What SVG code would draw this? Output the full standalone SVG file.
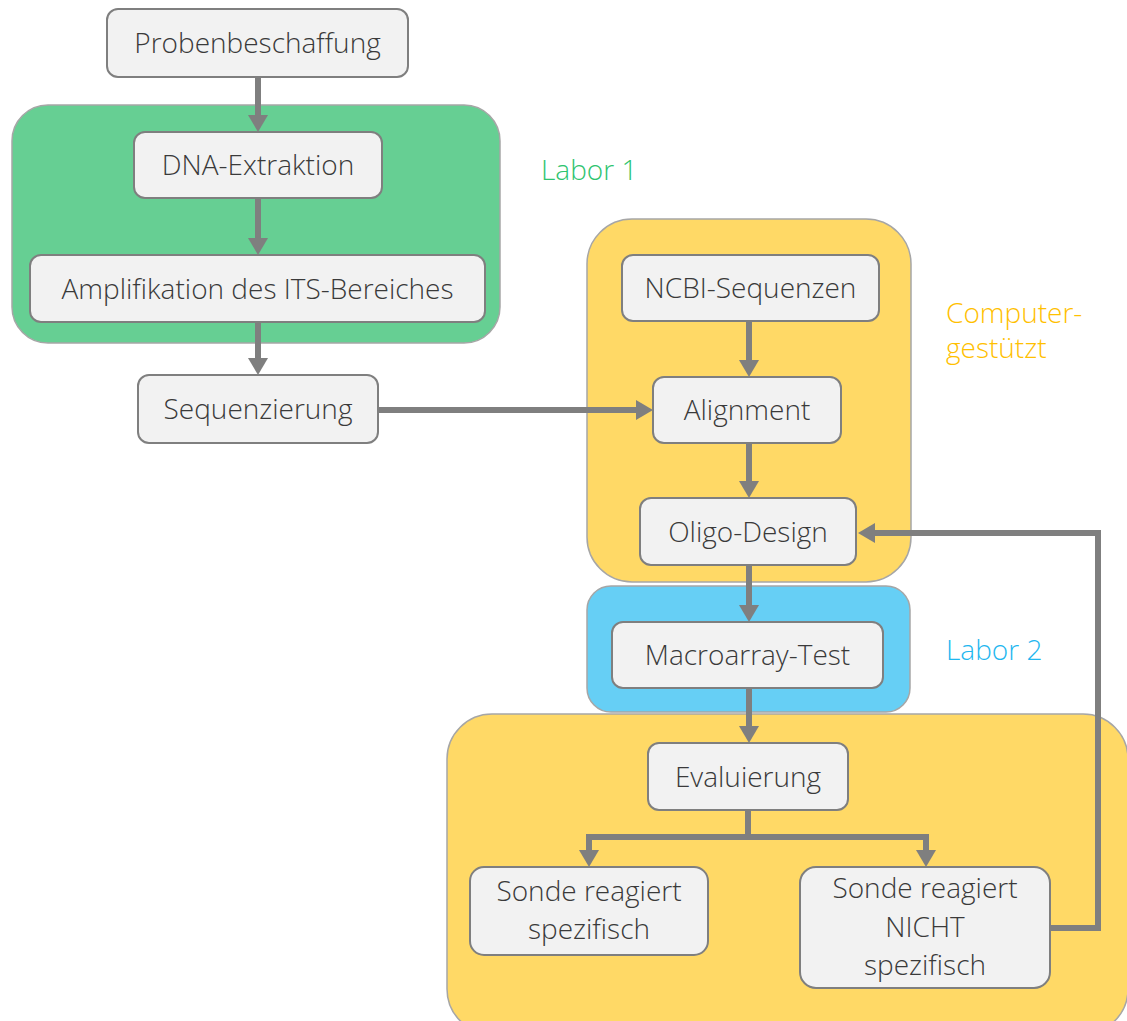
<svg xmlns="http://www.w3.org/2000/svg" width="1127" height="1021" viewBox="0 0 1127 1021">
<style>
.box{fill:#f2f2f2;stroke:#7f7f7f;stroke-width:2}
.grp{stroke:#a6a6a6;stroke-width:1.5}
.t{font-family:"Open Sans",Lato,"Liberation Sans",sans-serif;font-weight:300;font-size:28px;fill:#3a3a3a;text-anchor:middle}
.lbl{font-family:"Open Sans",Lato,"Liberation Sans",sans-serif;font-weight:300;font-size:28px}
.c{fill:none;stroke:#7f7f7f;stroke-width:6}
.a{marker-end:url(#ah)}
</style>
<defs>
<marker id="ah" markerUnits="userSpaceOnUse" markerWidth="18" markerHeight="20" refX="0" refY="10" orient="auto">
<path d="M0,0 L17,10 L0,20 z" fill="#7f7f7f"/>
</marker>
</defs>
<rect width="1127" height="1021" fill="#ffffff"/>
<g id="groups">
<rect id="g-labor1" class="grp" x="12" y="105" width="488" height="238" rx="36" fill="#66cf93"/>
<rect id="g-computer" class="grp" x="587" y="219" width="324" height="363" rx="45" fill="#ffd966"/>
<rect id="g-labor2" class="grp" x="587" y="586" width="323" height="126" rx="24" fill="#66cff5"/>
<rect id="g-eval" class="grp" x="447" y="714" width="681" height="320" rx="45" fill="#ffd966"/>
</g>
<g id="labels">
<text class="lbl" x="541" y="180" fill="#2ec46f">Labor 1</text>
<text class="lbl" x="946" y="323" fill="#ffc000">Computer-</text>
<text class="lbl" x="946" y="358" fill="#ffc000">gestützt</text>
<text class="lbl" x="946" y="660" fill="#1fb7ef">Labor 2</text>
</g>
<g id="connectors">
<path class="c a" d="M258,77 V115"/>
<path class="c a" d="M258,198 V238"/>
<path class="c a" d="M258,322 V358"/>
<path class="c a" d="M378,410 H636"/>
<path class="c a" d="M749,321 V360"/>
<path class="c a" d="M749,443 V481"/>
<path class="c a" d="M749,565 V605"/>
<path class="c a" d="M749,688 V726"/>
<path class="c" d="M748,810 V837 M586,837 H929"/>
<path class="c a" d="M589,834 V850"/>
<path class="c a" d="M926,834 V850"/>
<path class="c a" d="M1050,928 H1098 V533 H875"/>
</g>
<g id="n-probenbeschaffung"><rect class="box" x="107" y="9" width="301" height="68" rx="11"/><text class="t" x="257.5" y="53">Probenbeschaffung</text></g>
<g id="n-dna"><rect class="box" x="134" y="132" width="248" height="66" rx="11"/><text class="t" x="258" y="175">DNA-Extraktion</text></g>
<g id="n-amp"><rect class="box" x="30" y="255" width="455" height="67" rx="11"/><text class="t" x="257.5" y="298.5">Amplifikation des ITS-Bereiches</text></g>
<g id="n-seq"><rect class="box" x="138" y="375" width="240" height="68" rx="11"/><text class="t" x="258" y="419">Sequenzierung</text></g>
<g id="n-ncbi"><rect class="box" x="622" y="255" width="257" height="66" rx="11"/><text class="t" x="750.5" y="298">NCBI-Sequenzen</text></g>
<g id="n-align"><rect class="box" x="653" y="377" width="188" height="66" rx="11"/><text class="t" x="747" y="420">Alignment</text></g>
<g id="n-oligo"><rect class="box" x="640" y="498" width="216" height="67" rx="11"/><text class="t" x="748" y="541.5">Oligo-Design</text></g>
<g id="n-macro"><rect class="box" x="612" y="622" width="271" height="66" rx="11"/><text class="t" x="747.5" y="665">Macroarray-Test</text></g>
<g id="n-eval"><rect class="box" x="648" y="743" width="200" height="67" rx="11"/><text class="t" x="748" y="786.5">Evaluierung</text></g>
<g id="n-spez"><rect class="box" x="470" y="867" width="238" height="88" rx="14"/><text class="t" x="589" y="901">Sonde reagiert</text><text class="t" x="589" y="939">spezifisch</text></g>
<g id="n-nicht"><rect class="box" x="800" y="867" width="250" height="121" rx="16"/><text class="t" x="925" y="898">Sonde reagiert</text><text class="t" x="925" y="937">NICHT</text><text class="t" x="925" y="975">spezifisch</text></g>
</svg>
